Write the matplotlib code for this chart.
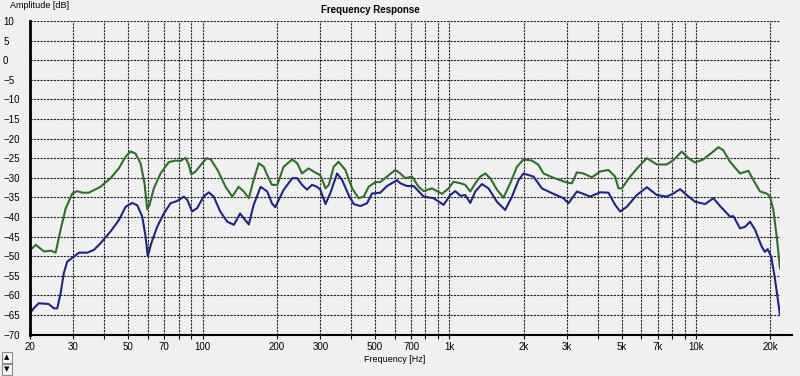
import matplotlib.pyplot as plt
import numpy as np
from matplotlib.patches import Rectangle
from matplotlib.lines import Line2D

#Green curve (Hz, dB).
green_freq = [20.1, 21.1, 22.8, 24.3, 25.4, 26.6, 27.9, 29.7, 31.1, 32.6, 34.6, 38.6, 42.4, 45.8, 48.8,
              51.1, 53.5, 56.1, 58.2, 59.7, 61.0, 63.5, 67.6, 73.0, 77.7, 81.4, 85.3, 88.0, 90.0, 93.7,
              99.7, 104, 108, 115, 124, 132, 140, 147, 154, 161, 169, 177, 183, 191, 201, 213, 231,
              242, 253, 269, 287, 300, 315, 325, 340, 356, 379, 404, 429, 450, 471, 502, 525, 559,
              604, 633, 663, 706, 751, 787, 851, 892, 934, 993, 1040, 1110, 1160, 1216, 1274, 1335,
              1398, 1465, 1559, 1657, 1765, 1879, 1998, 2161, 2298, 2408, 2643, 2813, 2995, 3138,
              3287, 3495, 3780, 4085, 4414, 4697, 4844, 5000, 5403, 5839, 6313, 6930, 7606, 8088,
              8747, 9302, 9900, 10700, 11570, 12310, 12890, 13720, 15070, 16280, 17060, 18160,
              19320, 19930, 20550, 21210, 21870]
green_db = [-48.4, -47.1, -48.8, -48.6, -49.1, -43.3, -37.8, -34.0, -33.4, -33.8, -33.8, -32.3, -30.1,
            -27.6, -24.6, -23.3, -23.8, -26.3, -31.4, -38.0, -36.9, -32.7, -28.9, -26.0, -25.6, -25.7,
            -24.9, -26.7, -29.1, -28.4, -26.3, -25.0, -25.3, -28.0, -32.3, -34.8, -32.3, -33.5, -35.2,
            -30.6, -26.3, -27.2, -29.3, -31.8, -31.8, -27.2, -25.3, -26.3, -28.9, -27.6, -28.7, -29.3,
            -32.7, -31.8, -27.2, -25.9, -28.0, -32.7, -35.2, -34.8, -32.3, -31.1, -31.1, -29.7, -28.0,
            -28.9, -30.1, -29.7, -32.3, -33.4, -32.7, -33.4, -34.1, -32.7, -31.0, -31.4, -31.8, -33.5,
            -31.4, -29.7, -28.9, -30.1, -33.0, -35.1, -31.4, -27.2, -25.3, -25.6, -26.7, -28.9, -30.0,
            -30.6, -31.2, -31.4, -28.6, -28.9, -29.9, -28.4, -28.0, -29.7, -32.7, -32.7, -29.7, -27.2,
            -25.0, -26.6, -26.6, -25.5, -23.3, -25.0, -26.1, -25.3, -23.6, -22.2, -23.0, -25.9, -28.9,
            -28.2, -30.6, -33.5, -34.0, -34.8, -38.2, -45.0, -53.1]

#Blue curve (Hz, dB).
blue_freq = [20.0, 20.7, 21.7, 23.8, 25.0, 25.8, 26.6, 27.4, 28.3, 30.1, 31.6, 34.1, 36.3, 38.6, 42.4,
             45.8, 48.8, 51.9, 54.4, 57.0, 58.8, 60.0, 62.0, 65.5, 69.7, 74.2, 79.0, 84.0, 86.7, 90.8,
             95.2, 101, 106, 111, 118, 126, 134, 142, 149, 154, 161, 172, 183, 191, 197, 213, 231, 242,
             253, 265, 278, 291, 300, 315, 330, 351, 368, 391, 410, 436, 464, 486, 525, 559, 614, 633,
             674, 717, 787, 864, 948, 1009, 1057, 1110, 1160, 1216, 1274, 1356, 1442, 1559, 1684, 1794,
             1908, 1998, 2194, 2372, 2643, 2901, 3039, 3287, 3495, 3720, 4085, 4414, 4697, 4922, 5237,
             5749, 6313, 6930, 7606, 8088, 8610, 9166, 9900, 10870, 11750, 12500, 13720, 14160, 15070,
             15790, 16540, 17340, 18450, 19000, 19500, 20150, 20800, 21870]
blue_db = [-64.6, -63.3, -62.0, -62.2, -63.3, -63.3, -59.5, -54.4, -51.4, -50.1, -49.1, -49.1, -48.4,
           -46.7, -43.7, -40.8, -37.4, -36.4, -37.0, -39.9, -45.0, -50.0, -46.7, -42.5, -39.1, -36.5,
           -35.9, -34.8, -35.6, -38.6, -37.7, -34.8, -33.7, -34.8, -38.6, -41.2, -42.0, -39.1, -40.8,
           -41.9, -37.0, -32.3, -33.5, -36.5, -37.5, -33.1, -30.1, -30.1, -31.8, -33.0, -31.8, -32.3,
           -33.0, -36.7, -33.8, -28.9, -30.6, -34.4, -36.7, -37.2, -36.5, -34.0, -33.8, -32.1, -30.6,
           -31.4, -32.1, -32.1, -34.8, -35.2, -36.9, -34.4, -33.4, -34.6, -34.4, -36.4, -33.5, -31.6,
           -32.7, -36.1, -38.2, -34.8, -30.6, -28.9, -29.7, -32.7, -34.1, -35.2, -36.5, -33.5, -34.1,
           -34.8, -33.7, -33.8, -36.9, -38.6, -37.4, -34.4, -32.4, -34.4, -34.8, -34.0, -32.9, -34.4,
           -36.1, -36.7, -35.2, -37.2, -39.9, -39.8, -42.9, -42.5, -41.2, -43.3, -47.6, -48.9, -48.2,
           -50.1, -55.2, -65.0]

#Grid positions and labels on the frequency axis.
x_grid = [20, 30, 40, 50, 60, 70, 80, 90, 100, 200, 300, 400, 500, 600, 700, 800, 900,
          1000, 2000, 3000, 4000, 5000, 6000, 7000, 8000, 9000, 10000, 20000]
x_labels = ['20', '30', '', '50', '', '70', '', '', '100', '200', '300', '', '500', '', '700', '', '',
            '1k', '2k', '3k', '', '5k', '', '7k', '', '', '10k', '20k']
y_ticks = list(range(10, -75, -5))

plt.rcParams['font.family'] = ['Liberation Sans', 'DejaVu Sans']
bg = '#f0f0f0'

fig = plt.figure(figsize=(8, 3.76), dpi=100, facecolor=bg)
ax = fig.add_axes([30/800, 1 - 334.6/376, 750/800, 313.6/376])
ax.set_facecolor(bg)

ax.set_xscale('log')
ax.set_xlim(20, 21870)
ax.set_ylim(-70, 10)

#Dashed black grid.
ax.set_xticks(x_grid)
ax.set_xticklabels(x_labels)
ax.minorticks_off()
ax.set_yticks(y_ticks)
ax.grid(True, color='#222222', linestyle=(0, (2, 1)), linewidth=0.8)
ax.set_axisbelow(True)

ax.tick_params(axis='x', length=3, width=0.8, color='#111111', pad=2, labelsize=7, direction='out')
ax.tick_params(axis='y', length=0, pad=19.4, labelsize=7)
for lab in ax.get_yticklabels():
    lab.set_horizontalalignment('left')

for side in ['top', 'right']:
    ax.spines[side].set_visible(False)
ax.spines['left'].set_linewidth(2)
ax.spines['bottom'].set_linewidth(1.5)

#Bottom axis line runs a little past the plot.
fig.add_artist(Line2D([780/800, 792/800], [1 - 334.6/376, 1 - 334.6/376], color='black', lw=1.5))

#Curves.
ax.plot(green_freq, green_db, color='#2f6f2a', linewidth=1.5, solid_joinstyle='round')
ax.plot(blue_freq, blue_db, color='#1f2580', linewidth=1.5, solid_joinstyle='round')

#Texts.
fig.text(370/800, 1 - 10/376, 'Frequency Response', ha='center', va='center', fontsize=7, weight='bold')
fig.text(10/800, 1 - 6/376, 'Amplitude [dB]', ha='left', va='center', fontsize=6.5)
fig.text(395/800, 1 - 360/376, 'Frequency [Hz]', ha='center', va='center', fontsize=6.5)

#Little up/down buttons in the corner.
for y0, glyph in [(352, '▲'), (364, '▼')]:
    fig.add_artist(Rectangle((2/800, 1 - (y0 + 11)/376), 10/800, 11/376, facecolor='#f7f7f7',
                             edgecolor='#8a8a8a', lw=0.8))
    fig.text(7/800, 1 - (y0 + 5.5)/376, glyph, ha='center', va='center', fontsize=5,
             family='DejaVu Sans')

plt.savefig('out.png', dpi=100, facecolor=bg)
